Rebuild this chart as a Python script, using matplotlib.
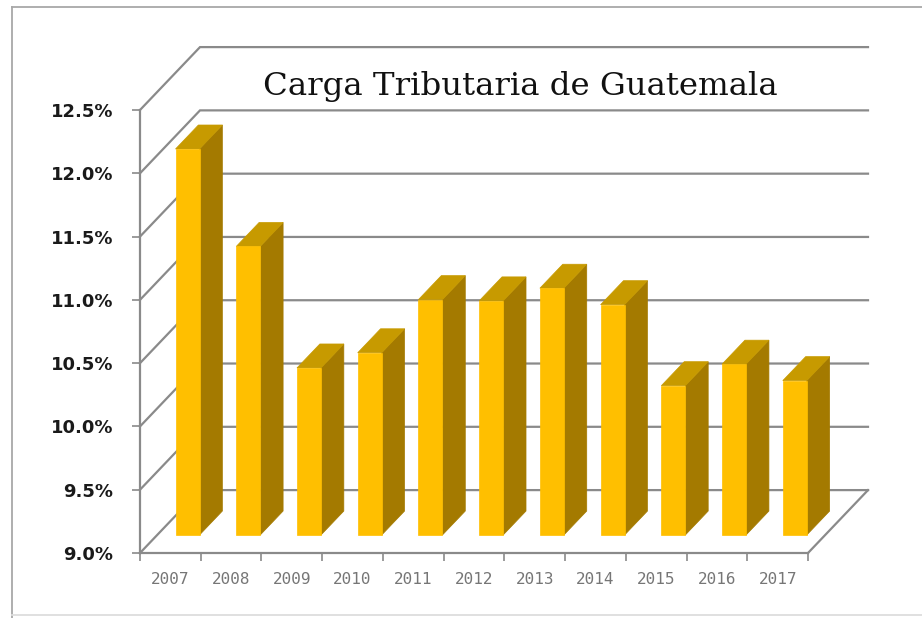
import matplotlib
matplotlib.use("Agg")
import matplotlib.pyplot as plt
from matplotlib.patches import Polygon
from matplotlib.lines import Line2D
import numpy as np

# ---- data ----
years = ["2007", "2008", "2009", "2010", "2011", "2012", "2013", "2014", "2015", "2016", "2017"]
carga = [12.05, 11.28, 10.32, 10.44, 10.86, 10.85, 10.95, 10.82, 10.18, 10.35, 10.22]
y_ticks = [9.0, 9.5, 10.0, 10.5, 11.0, 11.5, 12.0, 12.5]
title = "Carga Tributaria de Guatemala"

# ---- style / geometry ----
W, H = 922, 618
grid_c = "#8a8a8a"
front_c = "#FFBF00"
top_c = "#C79A00"
side_c = "#A47A00"
DX, DY = 0.988, 0.497        # full depth offset in data units (category, %)
D0, D1 = 0.286, 0.667        # bar depth span
BW = 0.395                   # bar width in category units
base = y_ticks[0]

fig = plt.figure(figsize=(W / 100, H / 100), dpi=100)
ax = fig.add_axes([140 / W, 65 / H, 668 / W, 443 / H])
n = len(years)
ax.set_xlim(-0.5, n - 0.5)
ax.set_ylim(y_ticks[0], y_ticks[-1])
ax.patch.set_alpha(0)

def proj(x, v, d):
    return (x + d * DX, v + d * DY)

lw = 1.6
# walls: left-wall diagonals and back-wall gridlines
for v in y_ticks:
    a = proj(-0.5, v, 0); b = proj(-0.5, v, 1); c = proj(n - 0.5, v, 1)
    ax.plot([a[0], b[0], c[0]], [a[1], b[1], c[1]], color=grid_c, lw=lw,
            clip_on=False, zorder=1, solid_joinstyle="miter")
# floor right edge
a = proj(n - 0.5, base, 0); b = proj(n - 0.5, base, 1)
ax.plot([a[0], b[0]], [a[1], b[1]], color=grid_c, lw=lw, clip_on=False, zorder=1)

# bars
for i, val in enumerate(carga):
    xl, xr = i - BW / 2, i + BW / 2
    front = [proj(xl, base, D0), proj(xr, base, D0), proj(xr, val, D0), proj(xl, val, D0)]
    top = [proj(xl, val, D0), proj(xr, val, D0), proj(xr, val, D1), proj(xl, val, D1)]
    side = [proj(xr, base, D0), proj(xr, base, D1), proj(xr, val, D1), proj(xr, val, D0)]
    for poly, col in ((side, side_c), (top, top_c), (front, front_c)):
        ax.add_patch(Polygon(poly, closed=True, facecolor=col, edgecolor=col,
                             lw=0.5, clip_on=False, zorder=3))

# axes: spines, ticks, labels
for s in ("top", "right"):
    ax.spines[s].set_visible(False)
for s in ("left", "bottom"):
    ax.spines[s].set_color(grid_c)
    ax.spines[s].set_linewidth(lw)
    ax.spines[s].set_zorder(2)

ax.set_yticks(y_ticks)
ax.set_yticklabels([f"{v:.1f}%" for v in y_ticks])
ax.tick_params(axis="y", direction="out", length=5.8, width=1.2, color=grid_c,
               pad=13.5, labelsize=13, labelcolor="#1a1a1a")
for t in ax.get_yticklabels():
    t.set_fontweight("bold")
    t.set_fontfamily("DejaVu Sans")

ax.set_xticks(np.arange(n))
ax.set_xticklabels(years)
ax.set_xticks(np.arange(n + 1) - 0.5, minor=True)
ax.tick_params(axis="x", which="major", length=0, pad=13.5, labelsize=11.5,
               labelcolor="#767676")
ax.tick_params(axis="x", which="minor", direction="out", length=5.8, width=1.2,
               color=grid_c)
for t in ax.get_xticklabels():
    t.set_fontfamily("DejaVu Sans Mono")

# title
fig.text(520 / W, 1 - 95 / H, title, ha="center", va="baseline",
         fontsize=23.3, family="DejaVu Serif", color="#111111")

# outer frame
frame_c = "#a8a8a8"
fig.add_artist(Line2D([12 / W, 12 / W], [0, 1 - 7 / H], color=frame_c, lw=1.3,
                      transform=fig.transFigure))
fig.add_artist(Line2D([12 / W, 1], [1 - 7 / H, 1 - 7 / H], color=frame_c, lw=1.3,
                      transform=fig.transFigure))
fig.add_artist(Line2D([12 / W, 1], [3 / H, 3 / H], color="#dddddd", lw=1.3,
                      transform=fig.transFigure))

fig.savefig("out.png", dpi=100, facecolor="white")
